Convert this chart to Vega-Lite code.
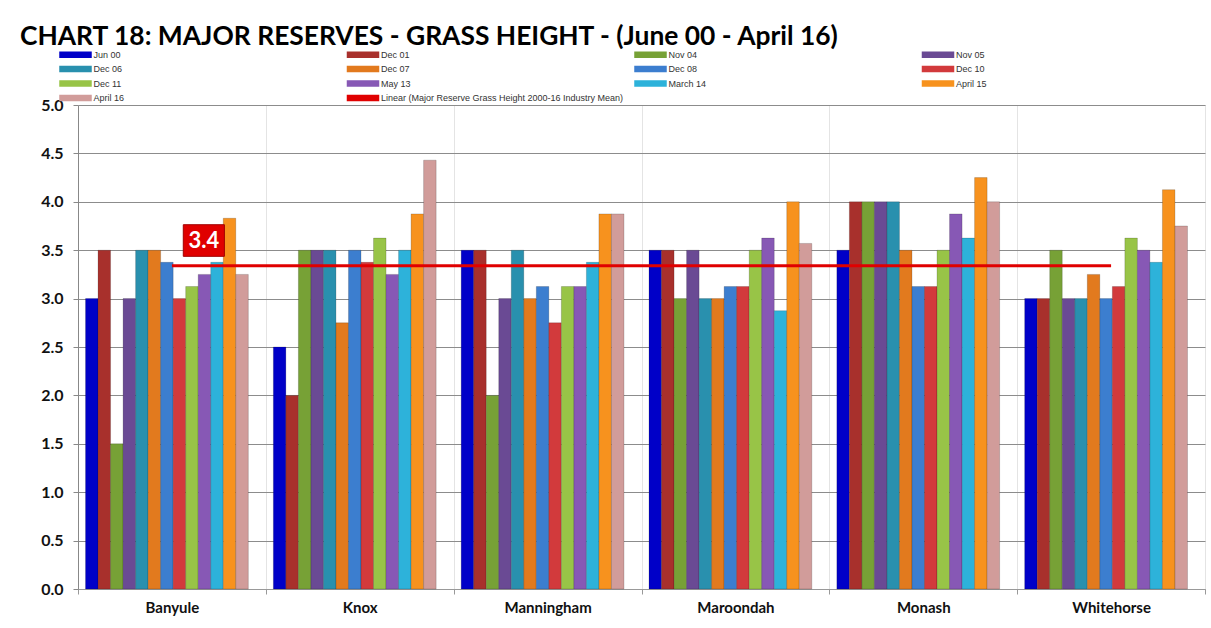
{
  "$schema": "https://vega.github.io/schema/vega-lite/v6.json",
  "width": 1127,
  "height": 484,
  "autosize": {"type": "none"},
  "padding": {"left": 78, "top": 105, "right": 6, "bottom": 39},
  "background": "white",
  "title": {
    "text": "CHART 18:  MAJOR RESERVES - GRASS HEIGHT - (June 00 - April 16)",
    "anchor": "start",
    "frame": "group",
    "dx": -58,
    "offset": -23,
    "baseline": "alphabetic",
    "font": "Lato",
    "fontWeight": "bold",
    "fontSize": 26.4,
    "color": "#000000"
  },
  "datasets": {
    "bars": [
      {"district": "Banyule", "period": "Jun 00", "value": 3.0},
      {"district": "Banyule", "period": "Dec 01", "value": 3.5},
      {"district": "Banyule", "period": "Nov 04", "value": 1.5},
      {"district": "Banyule", "period": "Nov 05", "value": 3.0},
      {"district": "Banyule", "period": "Dec 06", "value": 3.5},
      {"district": "Banyule", "period": "Dec 07", "value": 3.5},
      {"district": "Banyule", "period": "Dec 08", "value": 3.375},
      {"district": "Banyule", "period": "Dec 10", "value": 3.0},
      {"district": "Banyule", "period": "Dec 11", "value": 3.125},
      {"district": "Banyule", "period": "May 13", "value": 3.25},
      {"district": "Banyule", "period": "March 14", "value": 3.375},
      {"district": "Banyule", "period": "April 15", "value": 3.83},
      {"district": "Banyule", "period": "April 16", "value": 3.25},
      {"district": "Knox", "period": "Jun 00", "value": 2.5},
      {"district": "Knox", "period": "Dec 01", "value": 2.0},
      {"district": "Knox", "period": "Nov 04", "value": 3.5},
      {"district": "Knox", "period": "Nov 05", "value": 3.5},
      {"district": "Knox", "period": "Dec 06", "value": 3.5},
      {"district": "Knox", "period": "Dec 07", "value": 2.75},
      {"district": "Knox", "period": "Dec 08", "value": 3.5},
      {"district": "Knox", "period": "Dec 10", "value": 3.375},
      {"district": "Knox", "period": "Dec 11", "value": 3.625},
      {"district": "Knox", "period": "May 13", "value": 3.25},
      {"district": "Knox", "period": "March 14", "value": 3.5},
      {"district": "Knox", "period": "April 15", "value": 3.875},
      {"district": "Knox", "period": "April 16", "value": 4.43},
      {"district": "Manningham", "period": "Jun 00", "value": 3.5},
      {"district": "Manningham", "period": "Dec 01", "value": 3.5},
      {"district": "Manningham", "period": "Nov 04", "value": 2.0},
      {"district": "Manningham", "period": "Nov 05", "value": 3.0},
      {"district": "Manningham", "period": "Dec 06", "value": 3.5},
      {"district": "Manningham", "period": "Dec 07", "value": 3.0},
      {"district": "Manningham", "period": "Dec 08", "value": 3.125},
      {"district": "Manningham", "period": "Dec 10", "value": 2.75},
      {"district": "Manningham", "period": "Dec 11", "value": 3.125},
      {"district": "Manningham", "period": "May 13", "value": 3.125},
      {"district": "Manningham", "period": "March 14", "value": 3.375},
      {"district": "Manningham", "period": "April 15", "value": 3.875},
      {"district": "Manningham", "period": "April 16", "value": 3.875},
      {"district": "Maroondah", "period": "Jun 00", "value": 3.5},
      {"district": "Maroondah", "period": "Dec 01", "value": 3.5},
      {"district": "Maroondah", "period": "Nov 04", "value": 3.0},
      {"district": "Maroondah", "period": "Nov 05", "value": 3.5},
      {"district": "Maroondah", "period": "Dec 06", "value": 3.0},
      {"district": "Maroondah", "period": "Dec 07", "value": 3.0},
      {"district": "Maroondah", "period": "Dec 08", "value": 3.125},
      {"district": "Maroondah", "period": "Dec 10", "value": 3.125},
      {"district": "Maroondah", "period": "Dec 11", "value": 3.5},
      {"district": "Maroondah", "period": "May 13", "value": 3.625},
      {"district": "Maroondah", "period": "March 14", "value": 2.875},
      {"district": "Maroondah", "period": "April 15", "value": 4.0},
      {"district": "Maroondah", "period": "April 16", "value": 3.57},
      {"district": "Monash", "period": "Jun 00", "value": 3.5},
      {"district": "Monash", "period": "Dec 01", "value": 4.0},
      {"district": "Monash", "period": "Nov 04", "value": 4.0},
      {"district": "Monash", "period": "Nov 05", "value": 4.0},
      {"district": "Monash", "period": "Dec 06", "value": 4.0},
      {"district": "Monash", "period": "Dec 07", "value": 3.5},
      {"district": "Monash", "period": "Dec 08", "value": 3.125},
      {"district": "Monash", "period": "Dec 10", "value": 3.125},
      {"district": "Monash", "period": "Dec 11", "value": 3.5},
      {"district": "Monash", "period": "May 13", "value": 3.875},
      {"district": "Monash", "period": "March 14", "value": 3.625},
      {"district": "Monash", "period": "April 15", "value": 4.25},
      {"district": "Monash", "period": "April 16", "value": 4.0},
      {"district": "Whitehorse", "period": "Jun 00", "value": 3.0},
      {"district": "Whitehorse", "period": "Dec 01", "value": 3.0},
      {"district": "Whitehorse", "period": "Nov 04", "value": 3.5},
      {"district": "Whitehorse", "period": "Nov 05", "value": 3.0},
      {"district": "Whitehorse", "period": "Dec 06", "value": 3.0},
      {"district": "Whitehorse", "period": "Dec 07", "value": 3.25},
      {"district": "Whitehorse", "period": "Dec 08", "value": 3.0},
      {"district": "Whitehorse", "period": "Dec 10", "value": 3.125},
      {"district": "Whitehorse", "period": "Dec 11", "value": 3.625},
      {"district": "Whitehorse", "period": "May 13", "value": 3.5},
      {"district": "Whitehorse", "period": "March 14", "value": 3.375},
      {"district": "Whitehorse", "period": "April 15", "value": 4.125},
      {"district": "Whitehorse", "period": "April 16", "value": 3.75}
    ],
    "mean": [
      {"from": "Banyule", "to": "Whitehorse", "value": 3.34, "series": "Linear (Major Reserve Grass Height 2000-16 Industry Mean)"}
    ],
    "label": [
      {"district": "Banyule", "value": 3.6, "text": "3.4"}
    ]
  },
  "layer": [
    {
      "data": {"name": "bars"},
      "mark": {"type": "bar", "stroke": "#000000", "strokeOpacity": 0.22, "strokeWidth": 0.8},
      "encoding": {
        "x": {
          "field": "district",
          "type": "nominal",
          "sort": ["Banyule", "Knox", "Manningham", "Maroondah", "Monash", "Whitehorse"],
          "scale": {"paddingInner": 0, "paddingOuter": 0},
          "axis": {
            "title": null,
            "labelAngle": 0,
            "labelFont": "Lato",
            "labelFontWeight": "bold",
            "labelFontSize": 15,
            "labelColor": "#111111",
            "labelPadding": 6,
            "tickBand": "extent",
            "tickSize": 5,
            "tickColor": "#999999",
            "domainColor": "#999999",
            "grid": true,
            "gridColor": "#e4e4e4"
          }
        },
        "xOffset": {
          "field": "period",
          "type": "nominal",
          "sort": ["Jun 00", "Dec 01", "Nov 04", "Nov 05", "Dec 06", "Dec 07", "Dec 08", "Dec 10", "Dec 11", "May 13", "March 14", "April 15", "April 16"],
          "scale": {"paddingInner": 0, "paddingOuter": 1.08, "align": 0.3}
        },
        "y": {
          "field": "value",
          "type": "quantitative",
          "scale": {"domain": [0, 5], "nice": false, "zero": true},
          "axis": {
            "title": null,
            "values": [0, 0.5, 1, 1.5, 2, 2.5, 3, 3.5, 4, 4.5, 5],
            "format": ".1f",
            "labelFont": "Lato",
            "labelFontWeight": "bold",
            "labelFontSize": 16,
            "labelColor": "#111111",
            "labelPadding": 10,
            "tickSize": 5,
            "tickColor": "#888888",
            "domainColor": "#888888",
            "gridColor": "#8c8c8c",
            "gridWidth": 1
          }
        },
        "color": {
          "field": "period",
          "type": "nominal",
          "scale": {
            "domain": ["Jun 00", "Dec 01", "Nov 04", "Nov 05", "Dec 06", "Dec 07", "Dec 08", "Dec 10", "Dec 11", "May 13", "March 14", "April 15", "April 16", "Linear (Major Reserve Grass Height 2000-16 Industry Mean)"],
            "range": ["#0000C8", "#A8302C", "#77A136", "#6A4A94", "#2990AE", "#E27A1E", "#3C7ECF", "#D23A3C", "#98C447", "#8758B5", "#2DB2DA", "#F7921E", "#D19C9A", "#E00000"]
          },
          "legend": {
            "title": null,
            "orient": "none",
            "legendX": -8.5,
            "legendY": -56.5,
            "direction": "horizontal",
            "columns": 4,
            "gridAlign": "all",
            "columnPadding": 7.5,
            "rowPadding": 2.5,
            "symbolType": "M-3.1,-0.5L3.1,-0.5L3.1,0.5L-3.1,0.5Z",
            "symbolSize": 100,
            "labelFont": "Liberation Sans",
            "labelFontSize": 9,
            "labelColor": "#333333",
            "labelOffset": 12,
            "labelLimit": 400,
            "encode": {
              "symbols": {
                "update": {
                  "fill": {"scale": "color", "field": "value"},
                  "fillOpacity": {"value": 1},
                  "stroke": {"signal": "datum.value == 'Linear (Major Reserve Grass Height 2000-16 Industry Mean)' ? 'transparent' : '#555555'"},
                  "strokeWidth": {"value": 0.6},
                  "shape": {"signal": "datum.value == 'Linear (Major Reserve Grass Height 2000-16 Industry Mean)' ? 'M-3.1,-0.15L3.1,-0.15L3.1,0.15L-3.1,0.15Z' : 'M-3.1,-0.5L3.1,-0.5L3.1,0.5L-3.1,0.5Z'"}
                }
              }
            }
          }
        }
      }
    },
    {
      "data": {"name": "mean"},
      "mark": {"type": "rule", "strokeWidth": 3},
      "encoding": {
        "x": {"field": "from", "type": "nominal", "bandPosition": 0.5},
        "x2": {"field": "to"},
        "y": {"field": "value", "type": "quantitative"},
        "color": {"field": "series", "type": "nominal"}
      }
    },
    {
      "data": {"name": "label"},
      "mark": {"type": "point", "shape": "M-1.3,-1L1.3,-1L1.3,1L-1.3,1Z", "size": 1000, "filled": true, "fill": "#E00000", "stroke": "#A00000", "strokeWidth": 1, "opacity": 1},
      "encoding": {
        "x": {"field": "district", "type": "nominal", "bandPosition": 0.67},
        "y": {"field": "value", "type": "quantitative"}
      }
    },
    {
      "data": {"name": "label"},
      "mark": {"type": "text", "font": "Lato", "fontWeight": "bold", "fontSize": 22, "color": "#ffffff", "align": "center", "baseline": "middle"},
      "encoding": {
        "x": {"field": "district", "type": "nominal", "bandPosition": 0.67},
        "y": {"field": "value", "type": "quantitative"},
        "text": {"field": "text"}
      }
    }
  ]
}
